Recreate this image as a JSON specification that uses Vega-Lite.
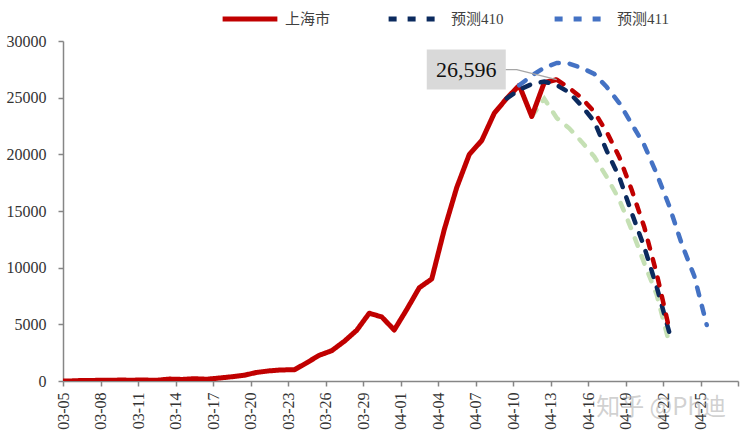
{
  "$schema": "https://vega.github.io/schema/vega-lite/v6.json",
  "autosize": {"type": "none"},
  "width": 675,
  "height": 340,
  "padding": {"left": 63, "top": 41, "right": 7, "bottom": 61},
  "background": "#ffffff",
  "title": {
    "text": "知乎 @Ph迪",
    "orient": "bottom",
    "anchor": "end",
    "frame": "group",
    "offset": -33,
    "dx": -12,
    "font": "Noto Sans CJK SC",
    "fontSize": 24,
    "fontWeight": "normal",
    "color": "rgba(170,170,170,0.55)"
  },
  "datasets": {
    "lines": [
      {"date": "2022-03-04", "value": 19, "series": "上海市"},
      {"date": "2022-03-05", "value": 2, "series": "上海市"},
      {"date": "2022-03-06", "value": 48, "series": "上海市"},
      {"date": "2022-03-07", "value": 54, "series": "上海市"},
      {"date": "2022-03-08", "value": 65, "series": "上海市"},
      {"date": "2022-03-09", "value": 80, "series": "上海市"},
      {"date": "2022-03-10", "value": 75, "series": "上海市"},
      {"date": "2022-03-11", "value": 83, "series": "上海市"},
      {"date": "2022-03-12", "value": 65, "series": "上海市"},
      {"date": "2022-03-13", "value": 169, "series": "上海市"},
      {"date": "2022-03-14", "value": 139, "series": "上海市"},
      {"date": "2022-03-15", "value": 202, "series": "上海市"},
      {"date": "2022-03-16", "value": 158, "series": "上海市"},
      {"date": "2022-03-17", "value": 260, "series": "上海市"},
      {"date": "2022-03-18", "value": 374, "series": "上海市"},
      {"date": "2022-03-19", "value": 509, "series": "上海市"},
      {"date": "2022-03-20", "value": 758, "series": "上海市"},
      {"date": "2022-03-21", "value": 896, "series": "上海市"},
      {"date": "2022-03-22", "value": 981, "series": "上海市"},
      {"date": "2022-03-23", "value": 983, "series": "上海市"},
      {"date": "2022-03-24", "value": 1609, "series": "上海市"},
      {"date": "2022-03-25", "value": 2269, "series": "上海市"},
      {"date": "2022-03-26", "value": 2676, "series": "上海市"},
      {"date": "2022-03-27", "value": 3500, "series": "上海市"},
      {"date": "2022-03-28", "value": 4477, "series": "上海市"},
      {"date": "2022-03-29", "value": 5982, "series": "上海市"},
      {"date": "2022-03-30", "value": 5653, "series": "上海市"},
      {"date": "2022-03-31", "value": 4502, "series": "上海市"},
      {"date": "2022-04-01", "value": 6311, "series": "上海市"},
      {"date": "2022-04-02", "value": 8226, "series": "上海市"},
      {"date": "2022-04-03", "value": 9006, "series": "上海市"},
      {"date": "2022-04-04", "value": 13354, "series": "上海市"},
      {"date": "2022-04-05", "value": 17077, "series": "上海市"},
      {"date": "2022-04-06", "value": 19982, "series": "上海市"},
      {"date": "2022-04-07", "value": 21222, "series": "上海市"},
      {"date": "2022-04-08", "value": 23624, "series": "上海市"},
      {"date": "2022-04-09", "value": 24943, "series": "上海市"},
      {"date": "2022-04-10", "value": 26087, "series": "上海市"},
      {"date": "2022-04-11", "value": 23342, "series": "上海市"},
      {"date": "2022-04-12", "value": 26330, "series": "上海市"},
      {"date": "2022-04-13", "value": 26596, "series": "上海市"},

      {"date": "2022-04-13", "value": 26596, "series": "上海市预测"},
      {"date": "2022-04-14", "value": 25850, "series": "上海市预测"},
      {"date": "2022-04-15", "value": 24970, "series": "上海市预测"},
      {"date": "2022-04-16", "value": 23740, "series": "上海市预测"},
      {"date": "2022-04-17", "value": 21970, "series": "上海市预测"},
      {"date": "2022-04-18", "value": 19770, "series": "上海市预测"},
      {"date": "2022-04-19", "value": 16850, "series": "上海市预测"},
      {"date": "2022-04-20", "value": 13590, "series": "上海市预测"},
      {"date": "2022-04-21", "value": 9440, "series": "上海市预测"},
      {"date": "2022-04-22", "value": 4600, "series": "上海市预测"},

      {"date": "2022-04-09", "value": 24943, "series": "预测410"},
      {"date": "2022-04-10", "value": 25700, "series": "预测410"},
      {"date": "2022-04-11", "value": 26200, "series": "预测410"},
      {"date": "2022-04-12", "value": 26420, "series": "预测410"},
      {"date": "2022-04-13", "value": 26120, "series": "预测410"},
      {"date": "2022-04-14", "value": 25450, "series": "预测410"},
      {"date": "2022-04-15", "value": 24270, "series": "预测410"},
      {"date": "2022-04-16", "value": 22900, "series": "预测410"},
      {"date": "2022-04-17", "value": 20300, "series": "预测410"},
      {"date": "2022-04-18", "value": 18000, "series": "预测410"},
      {"date": "2022-04-19", "value": 14820, "series": "预测410"},
      {"date": "2022-04-20", "value": 11820, "series": "预测410"},
      {"date": "2022-04-21", "value": 8290, "series": "预测410"},
      {"date": "2022-04-22", "value": 4300, "series": "预测410"},

      {"date": "2022-04-10", "value": 26087, "series": "预测411"},
      {"date": "2022-04-11", "value": 26950, "series": "预测411"},
      {"date": "2022-04-12", "value": 27650, "series": "预测411"},
      {"date": "2022-04-13", "value": 28060, "series": "预测411"},
      {"date": "2022-04-14", "value": 28000, "series": "预测411"},
      {"date": "2022-04-15", "value": 27620, "series": "预测411"},
      {"date": "2022-04-16", "value": 27100, "series": "预测411"},
      {"date": "2022-04-17", "value": 25940, "series": "预测411"},
      {"date": "2022-04-18", "value": 24530, "series": "预测411"},
      {"date": "2022-04-19", "value": 22680, "series": "预测411"},
      {"date": "2022-04-20", "value": 20820, "series": "预测411"},
      {"date": "2022-04-21", "value": 18270, "series": "预测411"},
      {"date": "2022-04-22", "value": 15440, "series": "预测411"},
      {"date": "2022-04-23", "value": 12090, "series": "预测411"},
      {"date": "2022-04-24", "value": 9270, "series": "预测411"},
      {"date": "2022-04-25", "value": 4940, "series": "预测411"},

      {"date": "2022-04-11", "value": 23342, "series": "另一预测"},
      {"date": "2022-04-12", "value": 24900, "series": "另一预测"},
      {"date": "2022-04-13", "value": 23210, "series": "另一预测"},
      {"date": "2022-04-14", "value": 22300, "series": "另一预测"},
      {"date": "2022-04-15", "value": 21100, "series": "另一预测"},
      {"date": "2022-04-16", "value": 19800, "series": "另一预测"},
      {"date": "2022-04-17", "value": 18000, "series": "另一预测"},
      {"date": "2022-04-18", "value": 16000, "series": "另一预测"},
      {"date": "2022-04-19", "value": 13320, "series": "另一预测"},
      {"date": "2022-04-20", "value": 10400, "series": "另一预测"},
      {"date": "2022-04-21", "value": 7600, "series": "另一预测"},
      {"date": "2022-04-22", "value": 3350, "series": "另一预测"}
    ],
    "note": [
      {"date": "2022-04-13", "value": 26596}
    ]
  },
  "encoding": {
    "x": {
      "field": "date",
      "type": "temporal",
      "scale": {
        "type": "utc",
        "domain": [
          {"year": 2022, "month": 3, "date": 4, "hours": 12, "utc": true},
          {"year": 2022, "month": 4, "date": 27, "hours": 12, "utc": true}
        ]
      },
      "axis": {
        "title": null,
        "values": [
          {"year": 2022, "month": 3, "date": 4, "hours": 12, "utc": true},
          {"year": 2022, "month": 3, "date": 7, "hours": 12, "utc": true},
          {"year": 2022, "month": 3, "date": 10, "hours": 12, "utc": true},
          {"year": 2022, "month": 3, "date": 13, "hours": 12, "utc": true},
          {"year": 2022, "month": 3, "date": 16, "hours": 12, "utc": true},
          {"year": 2022, "month": 3, "date": 19, "hours": 12, "utc": true},
          {"year": 2022, "month": 3, "date": 22, "hours": 12, "utc": true},
          {"year": 2022, "month": 3, "date": 25, "hours": 12, "utc": true},
          {"year": 2022, "month": 3, "date": 28, "hours": 12, "utc": true},
          {"year": 2022, "month": 3, "date": 31, "hours": 12, "utc": true},
          {"year": 2022, "month": 4, "date": 3, "hours": 12, "utc": true},
          {"year": 2022, "month": 4, "date": 6, "hours": 12, "utc": true},
          {"year": 2022, "month": 4, "date": 9, "hours": 12, "utc": true},
          {"year": 2022, "month": 4, "date": 12, "hours": 12, "utc": true},
          {"year": 2022, "month": 4, "date": 15, "hours": 12, "utc": true},
          {"year": 2022, "month": 4, "date": 18, "hours": 12, "utc": true},
          {"year": 2022, "month": 4, "date": 21, "hours": 12, "utc": true},
          {"year": 2022, "month": 4, "date": 24, "hours": 12, "utc": true},
          {"year": 2022, "month": 4, "date": 27, "hours": 12, "utc": true}
        ],
        "labelExpr": "datum.value >= 1651000000000 ? '' : utcFormat(datum.value + 43200000, '%m-%d')",
        "labelAngle": 270,
        "labelPadding": 6,
        "tickSize": 5,
        "grid": false
      }
    },
    "y": {
      "field": "value",
      "type": "quantitative",
      "scale": {"domain": [0, 30000], "nice": false, "zero": true},
      "axis": {
        "title": null,
        "values": [0, 5000, 10000, 15000, 20000, 25000, 30000],
        "format": "d",
        "tickSize": 5,
        "labelPadding": 12,
        "grid": false
      }
    }
  },
  "layer": [
    {
      "data": {"name": "lines"},
      "transform": [{"filter": "datum.series === '另一预测'"}],
      "mark": {"type": "line", "color": "#C5E0B4", "strokeWidth": 4.5, "strokeDash": [8, 11], "strokeCap": "round"}
    },
    {
      "data": {"name": "lines"},
      "transform": [{"filter": "datum.series === '上海市'"}],
      "mark": {"type": "line", "strokeWidth": 5, "strokeJoin": "round", "clip": true},
      "encoding": {
        "color": {
          "field": "series",
          "type": "nominal",
          "scale": {"domain": ["上海市", "预测410", "预测411"], "range": ["#C00000", "#0B2A5E", "#4472C4"]},
          "legend": {"title": null, "orient": "none", "legendX": 157, "legendY": -52, "direction": "horizontal"}
        },
        "strokeDash": {
          "field": "series",
          "type": "nominal",
          "scale": {"domain": ["上海市", "预测410", "预测411"], "range": [[1, 0], [8, 11], [8, 11]]},
          "legend": {"title": null, "orient": "none", "legendX": 157, "legendY": -52, "direction": "horizontal"}
        }
      }
    },
    {
      "data": {"name": "lines"},
      "transform": [{"filter": "datum.series === '预测410' || datum.series === '预测411'"}],
      "mark": {"type": "line", "strokeWidth": 4.5, "strokeCap": "round"},
      "encoding": {
        "color": {"field": "series", "type": "nominal", "legend": {"title": null, "orient": "none", "legendX": 157, "legendY": -52, "direction": "horizontal"}},
        "strokeDash": {"field": "series", "type": "nominal", "legend": {"title": null, "orient": "none", "legendX": 157, "legendY": -52, "direction": "horizontal"}}
      }
    },
    {
      "data": {"name": "lines"},
      "transform": [{"filter": "datum.series === '上海市预测'"}],
      "mark": {"type": "line", "color": "#C00000", "strokeWidth": 4.5, "strokeDash": [8, 11], "strokeCap": "round"}
    },
    {
      "data": {"name": "note"},
      "mark": {"type": "point", "shape": "M-130,-30H-51V10H-130Z", "size": 4, "filled": true, "fill": "#d9d9d9", "opacity": 1, "strokeWidth": 0}
    },
    {
      "data": {"name": "note"},
      "mark": {"type": "point", "shape": "M-51,-10H-40L0,0", "size": 4, "filled": false, "stroke": "#a6a6a6", "strokeWidth": 1.3, "opacity": 1}
    },
    {
      "data": {"name": "note"},
      "mark": {"type": "text", "dx": -90.5, "dy": -10, "fontSize": 22, "font": "Liberation Serif", "color": "#111111", "align": "center", "baseline": "middle"},
      "encoding": {"text": {"field": "value", "type": "quantitative", "format": ","}}
    }
  ],
  "config": {
    "view": {"stroke": null},
    "font": "Liberation Serif, Noto Sans CJK SC",
    "axis": {
      "domainColor": "#868686",
      "tickColor": "#868686",
      "domainWidth": 1.5,
      "tickWidth": 1.5,
      "labelColor": "#333333",
      "labelFont": "Liberation Serif",
      "labelFontSize": 16
    },
    "legend": {
      "gridAlign": "all",
      "columnPadding": 40,
      "padding": 0,
      "symbolType": "stroke",
      "symbolSize": 3000,
      "symbolStrokeWidth": 5,
      "labelFont": "Liberation Serif, Noto Sans CJK SC",
      "labelFontSize": 15,
      "labelColor": "#404040",
      "labelOffset": 5
    }
  }
}
